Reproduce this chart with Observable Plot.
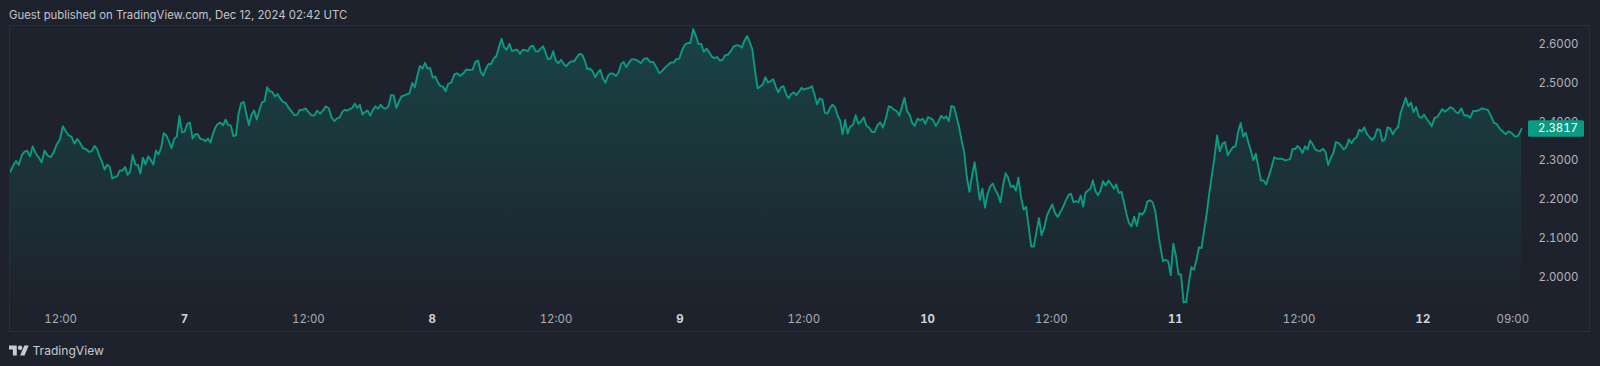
<!DOCTYPE html>
<html>
<head>
<meta charset="utf-8">
<script src="https://cdn.jsdelivr.net/npm/d3@7"></script>
<script src="https://cdn.jsdelivr.net/npm/@observablehq/plot@0.6"></script>
<style>
html,body{margin:0;padding:0;background:#1e222d;overflow:hidden;width:1600px;height:366px;font-family:Inter,"Noto Sans",sans-serif}
#title{height:25px;line-height:30px;padding-left:9px;font-size:11.35px;color:#c3c5cb;box-sizing:border-box;white-space:nowrap}
#chart{position:relative;height:307px;width:1600px}
#chart svg{display:block}
#chart text{font-variant-numeric:tabular-nums}
#frame{position:absolute;left:9px;top:0;width:1581px;height:307px;box-sizing:border-box;border:1.5px solid #2a2e39;pointer-events:none}
#footer{height:34px;position:relative;color:#c8cad0;font-size:12.1px}
#footer svg{position:absolute;left:9px;top:11px}
#footer span{position:absolute;left:32.5px;top:9px;line-height:20px}
</style>
</head>
<body>
<div id="title">Guest published on TradingView.com, Dec 12, 2024 02:42 UTC</div>
<div id="chart"><div id="frame"></div></div>
<div id="footer"><svg width="20" height="15" viewBox="0 2 36 22"><path fill="#c8cad0" d="M14 22H7V11H0V4h14v18zM28 22h-8l7.5-18h8L28 22z"/><circle fill="#c8cad0" cx="20" cy="8" r="4"/></svg><span>TradingView</span></div>
<script>
// Time readings: sample number within each traced leg, and its hours after 2024-12-06 00:00 UTC
const legSamples = [
  [0, 9, 18, 29, 39, 49, 59, 69, 80],
  [0, 9, 19, 29, 39, 49, 59, 69, 82],
  [0, 9, 19, 29, 39, 49, 59, 69, 80],
  [0, 9, 19, 29, 39, 49, 59, 69, 82],
  [0, 9, 19, 29, 39, 49, 59, 69, 79, 84],
  [0, 9, 19, 29, 39, 49, 59, 69, 79, 84],
  [0, 9, 19, 29, 39, 49, 59, 69, 71]
];
const legHours = [
  [7.14, 9.564, 12.213, 15.281, 17.736, 20.223, 22.742, 25.294, 27.975],
  [28.233, 30.494, 33.014, 35.727, 38.537, 40.992, 43.511, 46.063, 49.293],
  [49.551, 52.2, 54.719, 57.271, 59.726, 62.277, 64.797, 67.316, 70.611],
  [70.868, 73.291, 75.875, 78.523, 81.043, 83.53, 86.049, 88.504, 91.928],
  [92.253, 94.514, 97.066, 99.553, 102.072, 104.559, 107.046, 109.663, 112.02, 113.248],
  [113.541, 115.769, 118.321, 120.808, 123.295, 125.847, 128.302, 130.886, 133.308, 134.568],
  [134.818, 137.079, 139.566, 142.086, 144.605, 147.157, 149.999, 152.906, 153.552]
];

const leg1 = [2.272,2.288,2.299,2.289,2.313,2.323,2.326,2.311,2.337,2.320,2.309,2.296,2.326,2.313,2.309,2.322,2.342,2.354,2.389,2.376,2.365,2.362,2.344,2.356,2.346,2.332,2.330,2.323,2.324,2.338,2.330,2.311,2.296,2.277,2.290,2.284,2.254,2.258,2.260,2.275,2.274,2.284,2.263,2.272,2.315,2.290,2.289,2.267,2.308,2.290,2.311,2.302,2.290,2.326,2.316,2.333,2.371,2.365,2.350,2.332,2.356,2.362,2.415,2.373,2.375,2.395,2.398,2.357,2.368,2.368,2.356,2.355,2.350,2.357,2.347,2.369,2.386,2.395,2.398,2.391,2.406];
const leg2 = [2.392,2.391,2.363,2.366,2.421,2.448,2.451,2.421,2.392,2.419,2.429,2.406,2.429,2.450,2.453,2.489,2.479,2.477,2.465,2.472,2.460,2.451,2.448,2.436,2.427,2.417,2.418,2.431,2.431,2.435,2.425,2.417,2.416,2.429,2.421,2.429,2.440,2.435,2.411,2.402,2.409,2.411,2.425,2.431,2.429,2.433,2.436,2.447,2.436,2.444,2.419,2.425,2.429,2.416,2.431,2.440,2.434,2.444,2.436,2.434,2.440,2.469,2.468,2.436,2.453,2.466,2.468,2.471,2.474,2.500,2.489,2.518,2.544,2.537,2.552,2.537,2.539,2.514,2.517,2.502,2.492,2.491,2.479];
const leg3 = [2.498,2.501,2.522,2.525,2.518,2.525,2.535,2.534,2.534,2.555,2.558,2.528,2.519,2.537,2.549,2.549,2.563,2.569,2.592,2.614,2.592,2.586,2.601,2.582,2.585,2.586,2.575,2.585,2.585,2.582,2.594,2.596,2.582,2.581,2.588,2.595,2.578,2.561,2.563,2.582,2.558,2.551,2.560,2.549,2.543,2.552,2.556,2.556,2.567,2.575,2.573,2.558,2.536,2.537,2.531,2.515,2.527,2.534,2.511,2.501,2.519,2.525,2.524,2.518,2.527,2.549,2.554,2.541,2.552,2.561,2.561,2.558,2.551,2.562,2.564,2.554,2.554,2.541,2.525,2.532,2.541];
const leg4 = [2.547,2.553,2.553,2.562,2.563,2.584,2.599,2.603,2.603,2.639,2.622,2.600,2.601,2.580,2.589,2.579,2.568,2.564,2.567,2.558,2.560,2.572,2.573,2.582,2.594,2.597,2.597,2.591,2.609,2.621,2.605,2.586,2.532,2.486,2.491,2.496,2.515,2.501,2.505,2.510,2.491,2.476,2.489,2.492,2.472,2.461,2.471,2.476,2.469,2.477,2.488,2.483,2.486,2.487,2.492,2.471,2.445,2.460,2.458,2.423,2.421,2.436,2.444,2.438,2.417,2.404,2.368,2.405,2.370,2.388,2.392,2.417,2.395,2.401,2.411,2.390,2.385,2.374,2.374,2.391,2.399,2.385,2.406];
const leg5 = [2.440,2.438,2.431,2.428,2.416,2.438,2.462,2.428,2.418,2.397,2.390,2.408,2.404,2.408,2.395,2.412,2.409,2.404,2.389,2.402,2.416,2.409,2.414,2.402,2.441,2.438,2.414,2.386,2.352,2.322,2.258,2.220,2.262,2.296,2.249,2.199,2.228,2.179,2.215,2.234,2.241,2.225,2.213,2.193,2.236,2.268,2.256,2.232,2.236,2.223,2.256,2.206,2.174,2.181,2.129,2.079,2.079,2.116,2.152,2.108,2.127,2.159,2.174,2.187,2.165,2.155,2.168,2.181,2.198,2.212,2.215,2.193,2.196,2.193,2.210,2.182,2.218,2.223,2.228,2.249,2.222,2.211,2.223,2.247,2.236];
const leg6 = [2.249,2.240,2.228,2.239,2.217,2.220,2.193,2.163,2.139,2.131,2.156,2.132,2.165,2.161,2.170,2.195,2.198,2.193,2.170,2.120,2.077,2.041,2.045,2.041,2.005,2.086,2.056,2.007,2.007,1.935,1.936,1.983,2.026,2.019,2.043,2.077,2.075,2.120,2.163,2.215,2.262,2.309,2.365,2.324,2.343,2.348,2.314,2.325,2.335,2.337,2.374,2.397,2.362,2.372,2.348,2.326,2.301,2.318,2.283,2.249,2.249,2.239,2.262,2.283,2.309,2.305,2.305,2.305,2.301,2.302,2.304,2.330,2.330,2.338,2.331,2.320,2.337,2.329,2.352,2.343,2.329,2.326,2.325,2.331,2.322];
const leg7 = [2.289,2.307,2.320,2.348,2.346,2.338,2.329,2.335,2.355,2.345,2.356,2.360,2.380,2.375,2.386,2.369,2.361,2.354,2.361,2.381,2.380,2.350,2.355,2.386,2.383,2.368,2.380,2.386,2.422,2.442,2.462,2.440,2.450,2.425,2.438,2.414,2.410,2.419,2.408,2.399,2.388,2.410,2.412,2.422,2.433,2.426,2.431,2.438,2.435,2.426,2.422,2.435,2.416,2.417,2.410,2.428,2.428,2.430,2.435,2.433,2.431,2.416,2.398,2.394,2.382,2.375,2.368,2.376,2.371,2.362,2.364,2.3817];

const priceTicks = [2.0, 2.1, 2.2, 2.3, 2.4, 2.5, 2.6];
const dayTicks = ["2024-12-07", "2024-12-08", "2024-12-09", "2024-12-10", "2024-12-11", "2024-12-12"];
const noonTicks = ["2024-12-06", "2024-12-07", "2024-12-08", "2024-12-09", "2024-12-10", "2024-12-11"];
const lastTick = "2024-12-12T09:00Z";
const lastPrice = 2.3817;

const origin = Date.UTC(2024, 11, 6);
const legs = [leg1, leg2, leg3, leg4, leg5, leg6, leg7];
const series = legs.flatMap((leg, k) => {
  const hourAt = d3.scaleLinear(legSamples[k], legHours[k]);
  return leg.map((price, i) => ({time: new Date(origin + hourAt(i) * 36e5), price}));
});

const W = 1600, H = 307, ML = 10, MR = 79, MT = 1, MB = 26;
const floor = 1.9245, ceil = 2.6456;
const lineColor = "#0b9a82";
const axisFont = {fontSize: 11.4, fontFamily: "Inter, 'Noto Sans', sans-serif"};
const svgNS = "http://www.w3.org/2000/svg";

function gradientDefs() {
  const defs = document.createElementNS(svgNS, "defs");
  defs.innerHTML = `<linearGradient id="fade" x1="0" y1="0" x2="0" y2="1">
    <stop offset="0" stop-color="#089981" stop-opacity="0.28"/>
    <stop offset="1" stop-color="#089981" stop-opacity="0.0"/>
  </linearGradient>`;
  return defs;
}

function priceTag(index, scales) {
  const g = document.createElementNS(svgNS, "g");
  const y = scales.y(lastPrice);
  g.innerHTML = `<rect x="${W - MR + 7}" y="${y - 8.2}" width="56" height="16.4" rx="1.5" fill="${lineColor}"/>
    <text x="${W - MR + 57}" y="${y}" dy="0.35em" text-anchor="end" fill="#ffffff"
      font-size="${axisFont.fontSize}" font-family="${axisFont.fontFamily}">${d3.format(".4f")(lastPrice)}</text>`;
  return g;
}

const chart = Plot.plot({
  width: W, height: H,
  marginLeft: ML, marginRight: MR, marginTop: MT, marginBottom: MB,
  style: {background: "transparent", overflow: "visible"},
  x: {type: "utc", domain: [series[0].time, series[series.length - 1].time]},
  y: {domain: [floor, ceil]},
  marks: [
    gradientDefs,
    Plot.areaY(series, {x: "time", y1: floor, y2: "price", fill: "url(#fade)"}),
    Plot.line(series, {x: "time", y: "price", stroke: lineColor, strokeWidth: 1.9, strokeLinejoin: "round"}),
    Plot.axisY({anchor: "right", ticks: priceTicks, tickFormat: d3.format(".4f"), tickSize: 0, tickPadding: 57, textAnchor: "end", label: null, fill: "#b2b5be", ...axisFont}),
    Plot.axisX({anchor: "bottom", ticks: noonTicks.map(d => new Date(d + "T12:00Z")), tickFormat: d3.utcFormat("%H:%M"), tickSize: 0, tickPadding: 8, label: null, fill: "#a9acb5", ...axisFont}),
    Plot.axisX({anchor: "bottom", ticks: [new Date(lastTick)], tickFormat: d3.utcFormat("%H:%M"), tickSize: 0, tickPadding: 8, dx: -3, label: null, fill: "#a9acb5", ...axisFont}),
    Plot.axisX({anchor: "bottom", ticks: dayTicks.map(d => new Date(d + "T00:00Z")), tickFormat: d3.utcFormat("%-d"), tickSize: 0, tickPadding: 8, label: null, fill: "#d1d4dc", fontWeight: 700, ...axisFont}),
    priceTag
  ]
});
document.getElementById("chart").prepend(chart);
</script>
</body>
</html>
